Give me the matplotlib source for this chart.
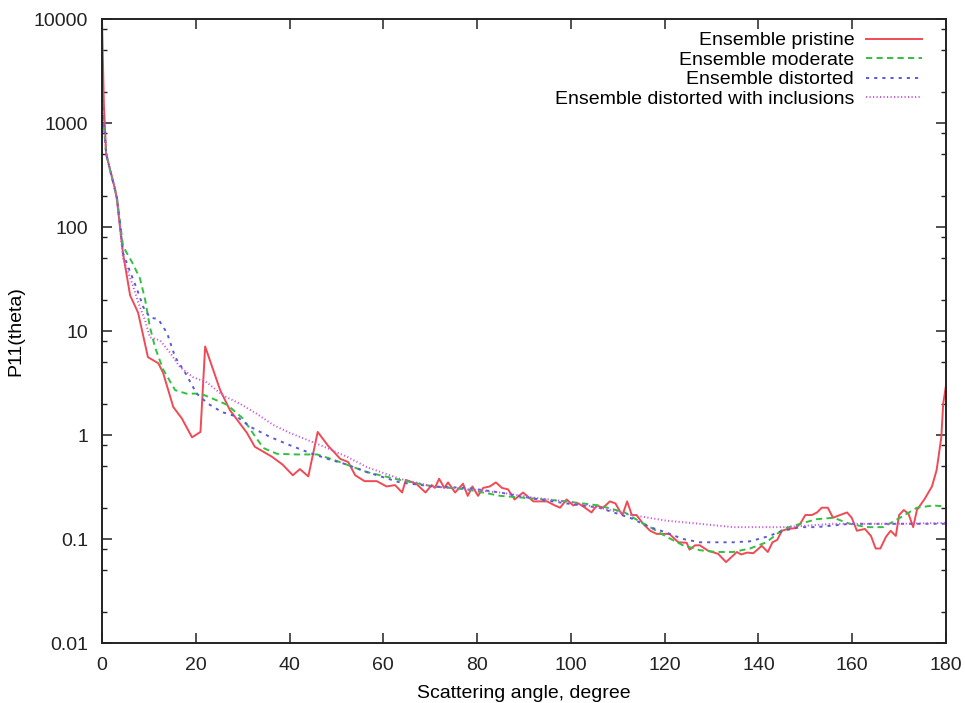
import numpy as np
import matplotlib
matplotlib.use("Agg")
import matplotlib.pyplot as plt
from matplotlib.ticker import LogLocator, NullFormatter

plt.rcParams['font.family'] = ['Liberation Sans', 'DejaVu Sans']

# --- data (angle in degree, P11) ---
angle_pristine = [0, 0.4, 0.9, 2.8, 3.2, 4.5, 6, 7.7, 9.8, 12, 13, 15.2, 17, 19.2, 21, 22,
                  25.2, 27.3, 30.9, 32.6, 34.4, 36.2, 38.5, 40.7, 42.2, 44, 46, 48.3, 49.3,
                  50.8, 52.5, 54, 56, 58.6, 60.7, 62.5, 64, 64.8, 67, 69, 70.3, 71, 71.9, 73,
                  73.8, 75.3, 77, 78, 79, 80.2, 81.3, 82.7, 84, 85.3, 86.6, 88, 89.8, 92, 94.9,
                  96.6, 97.7, 99.1, 100.5, 101.6, 103, 104.4, 105.5, 106.9, 108.3, 109.5, 110.3,
                  111, 112, 113, 114, 115.4, 116.9, 118.3, 121, 122.9, 124.7, 125.3, 126.5,
                  127.5, 129.3, 131.4, 133.1, 134.4, 135.4, 136.3, 137.6, 138.9, 140.7, 142,
                  143, 144, 145, 146.3, 147.8, 148.9, 150, 151.4, 152.5, 153.5, 154.8, 155.9,
                  157.4, 158.9, 159.9, 161, 162.7, 164, 165, 166, 167.2, 168.2, 169.3, 170,
                  171, 172, 173, 173.8, 175.5, 177, 178, 179, 179.4, 180]
p11_pristine = [10000, 1500, 500, 230, 180, 55, 22, 15, 5.6, 4.9, 4.0, 1.86, 1.45, 0.95, 1.07, 7.1,
                2.7, 1.73, 1.05, 0.77, 0.69, 0.62, 0.52, 0.41, 0.47, 0.40, 1.07, 0.78, 0.70,
                0.59, 0.55, 0.41, 0.36, 0.36, 0.32, 0.33, 0.28, 0.37, 0.34, 0.28, 0.33, 0.31, 0.38, 0.31,
                0.35, 0.28, 0.34, 0.26, 0.32, 0.26, 0.31, 0.32, 0.35, 0.31, 0.30, 0.24, 0.28, 0.23, 0.23,
                0.21, 0.20, 0.24, 0.21, 0.22, 0.20, 0.18, 0.21, 0.20, 0.23, 0.22, 0.19,
                0.17, 0.23, 0.17, 0.17, 0.14, 0.12, 0.112, 0.112, 0.093, 0.092, 0.079, 0.087,
                0.087, 0.077, 0.072, 0.060, 0.068, 0.075, 0.071, 0.074, 0.073, 0.086, 0.075,
                0.093, 0.098, 0.12, 0.125, 0.127, 0.14, 0.17, 0.17, 0.18, 0.20, 0.20, 0.16,
                0.17, 0.18, 0.16, 0.12, 0.125, 0.107, 0.081, 0.081, 0.105, 0.12, 0.107, 0.17,
                0.19, 0.175, 0.13, 0.19, 0.245, 0.32, 0.46, 0.95, 2.0, 3.0]

angle_moderate = [0, 0.9, 3.2, 4.5, 6.4, 8.1, 9.2, 10.2, 11.3, 13, 15.6, 18, 21, 23, 26.7, 30,
                  32.2, 34.4, 37.3, 41.6, 45.9, 49.3, 56.5, 63.5, 70.6, 77.8, 84.9, 92, 99, 106,
                  111.5, 113.3, 116.9, 120.4, 123.9, 127.5, 131.1, 134.6, 138.2, 141.7, 145.3,
                  148.9, 152.4, 156, 159.5, 163, 166.6, 170.2, 173.8, 177.3, 180]
p11_moderate = [1500, 500, 190, 65, 46, 32, 20, 11, 7.0, 4.3, 2.7, 2.5, 2.5, 2.3, 1.95, 1.45,
                1.04, 0.75, 0.66, 0.65, 0.65, 0.58, 0.44, 0.37, 0.32, 0.30, 0.26, 0.245, 0.23, 0.21,
                0.18, 0.16, 0.13, 0.105, 0.087, 0.078, 0.075, 0.075, 0.081, 0.093, 0.125,
                0.14, 0.155, 0.16, 0.14, 0.13, 0.13, 0.16, 0.20, 0.21, 0.205]

angle_distorted = [0, 0.9, 3.2, 4.5, 6, 7.5, 8.8, 10.2, 12, 13.9, 15.6, 17.7, 20.2, 22.6, 25.6,
                   28.8, 31.6, 35.8, 40, 44.4, 48.6, 52.2, 56.5, 63.5, 70.6, 77.8, 84.9, 92, 99,
                   106, 112.6, 116.9, 120.4, 123.9, 127.5, 131.1, 134.6, 138.2, 141.7, 145.3,
                   148.9, 152.4, 156, 159.5, 163, 170, 180]
p11_distorted = [1700, 500, 190, 56, 37, 25, 17, 13.5, 13, 9.5, 5.6, 4.0, 2.5, 2.0, 1.66,
                 1.5, 1.2, 0.96, 0.8, 0.67, 0.58, 0.52, 0.44, 0.35, 0.32, 0.31, 0.28, 0.245, 0.22,
                 0.20, 0.16, 0.13, 0.115, 0.10, 0.093, 0.093, 0.093, 0.095, 0.105, 0.12,
                 0.13, 0.13, 0.135, 0.14, 0.14, 0.14, 0.14]

angle_inclusions = [0, 0.9, 3.2, 4.5, 6.4, 7.7, 9.2, 10.2, 12.4, 14.5, 16.6, 19.4, 22.4, 25.8,
                    29.4, 33, 36.5, 40, 43.7, 47.1, 52.5, 56.5, 63.5, 70.6, 77.8, 84.9, 92, 99,
                    106, 113, 120.4, 127.5, 134.6, 141.7, 145.3, 148.9, 156, 163, 170, 180]
p11_inclusions = [1700, 500, 190, 50, 29, 19, 12.6, 8.7, 8.1, 6.2, 4.5, 3.6, 3.2, 2.4,
                  2.0, 1.6, 1.25, 1.05, 0.9, 0.78, 0.61, 0.49, 0.38, 0.32, 0.30, 0.28, 0.25, 0.23,
                  0.20, 0.17, 0.15, 0.14, 0.13, 0.13, 0.13, 0.133, 0.14, 0.14, 0.14, 0.143]

labels = ['Ensemble pristine', 'Ensemble moderate', 'Ensemble distorted',
          'Ensemble distorted with inclusions']

fig = plt.figure(figsize=(9.65, 7.03), dpi=100)
ax = fig.add_axes([102 / 965, 1 - 643 / 703, (946 - 102) / 965, (643 - 19) / 703])

lw = 1.4
ax.plot(angle_pristine, p11_pristine, color='#f04a55', lw=lw, label=labels[0])
ax.plot(angle_moderate, p11_moderate, color='#33c040', lw=lw, dashes=(3.2, 2.2), label=labels[1])
ax.plot(angle_distorted, p11_distorted, color='#5a5ad8', lw=lw, dashes=(1.6, 2.6), label=labels[2])
ax.plot(angle_inclusions, p11_inclusions, color='#cc55d8', lw=lw, dashes=(0.6, 1.2), label=labels[3])

ax.set_yscale('log')
ax.set_xlim(0, 180)
ax.set_ylim(0.01, 10000)
ax.set_xticks(np.arange(0, 181, 20))
ax.set_yticks([0.01, 0.1, 1, 10, 100, 1000, 10000])
ax.set_yticklabels(['0.01', '0.1', '1', '10', '100', '1000', '10000'])
ax.yaxis.set_minor_locator(LogLocator(base=10, subs=(2, 5, 8)))
ax.yaxis.set_minor_formatter(NullFormatter())

ax.tick_params(which='both', direction='in', top=True, right=True, labelsize=14, colors='#222222')
ax.tick_params(which='major', length=7, width=1.1, pad=10)
ax.tick_params(which='minor', length=3.8, width=1.0)
for s in ax.spines.values():
    s.set_linewidth(1.4)
    s.set_color('#222222')

ax.set_xlabel('Scattering angle, degree', fontsize=14, labelpad=8)
ax.set_ylabel('P11(theta)', fontsize=14, labelpad=7)

leg = ax.legend(loc='upper right', markerfirst=False, frameon=False, fontsize=14,
                handlelength=2.9, handletextpad=0.6, labelspacing=0.1,
                borderaxespad=0.0, bbox_to_anchor=(0.981, 0.992))

fig.savefig('out.png', dpi=100)
